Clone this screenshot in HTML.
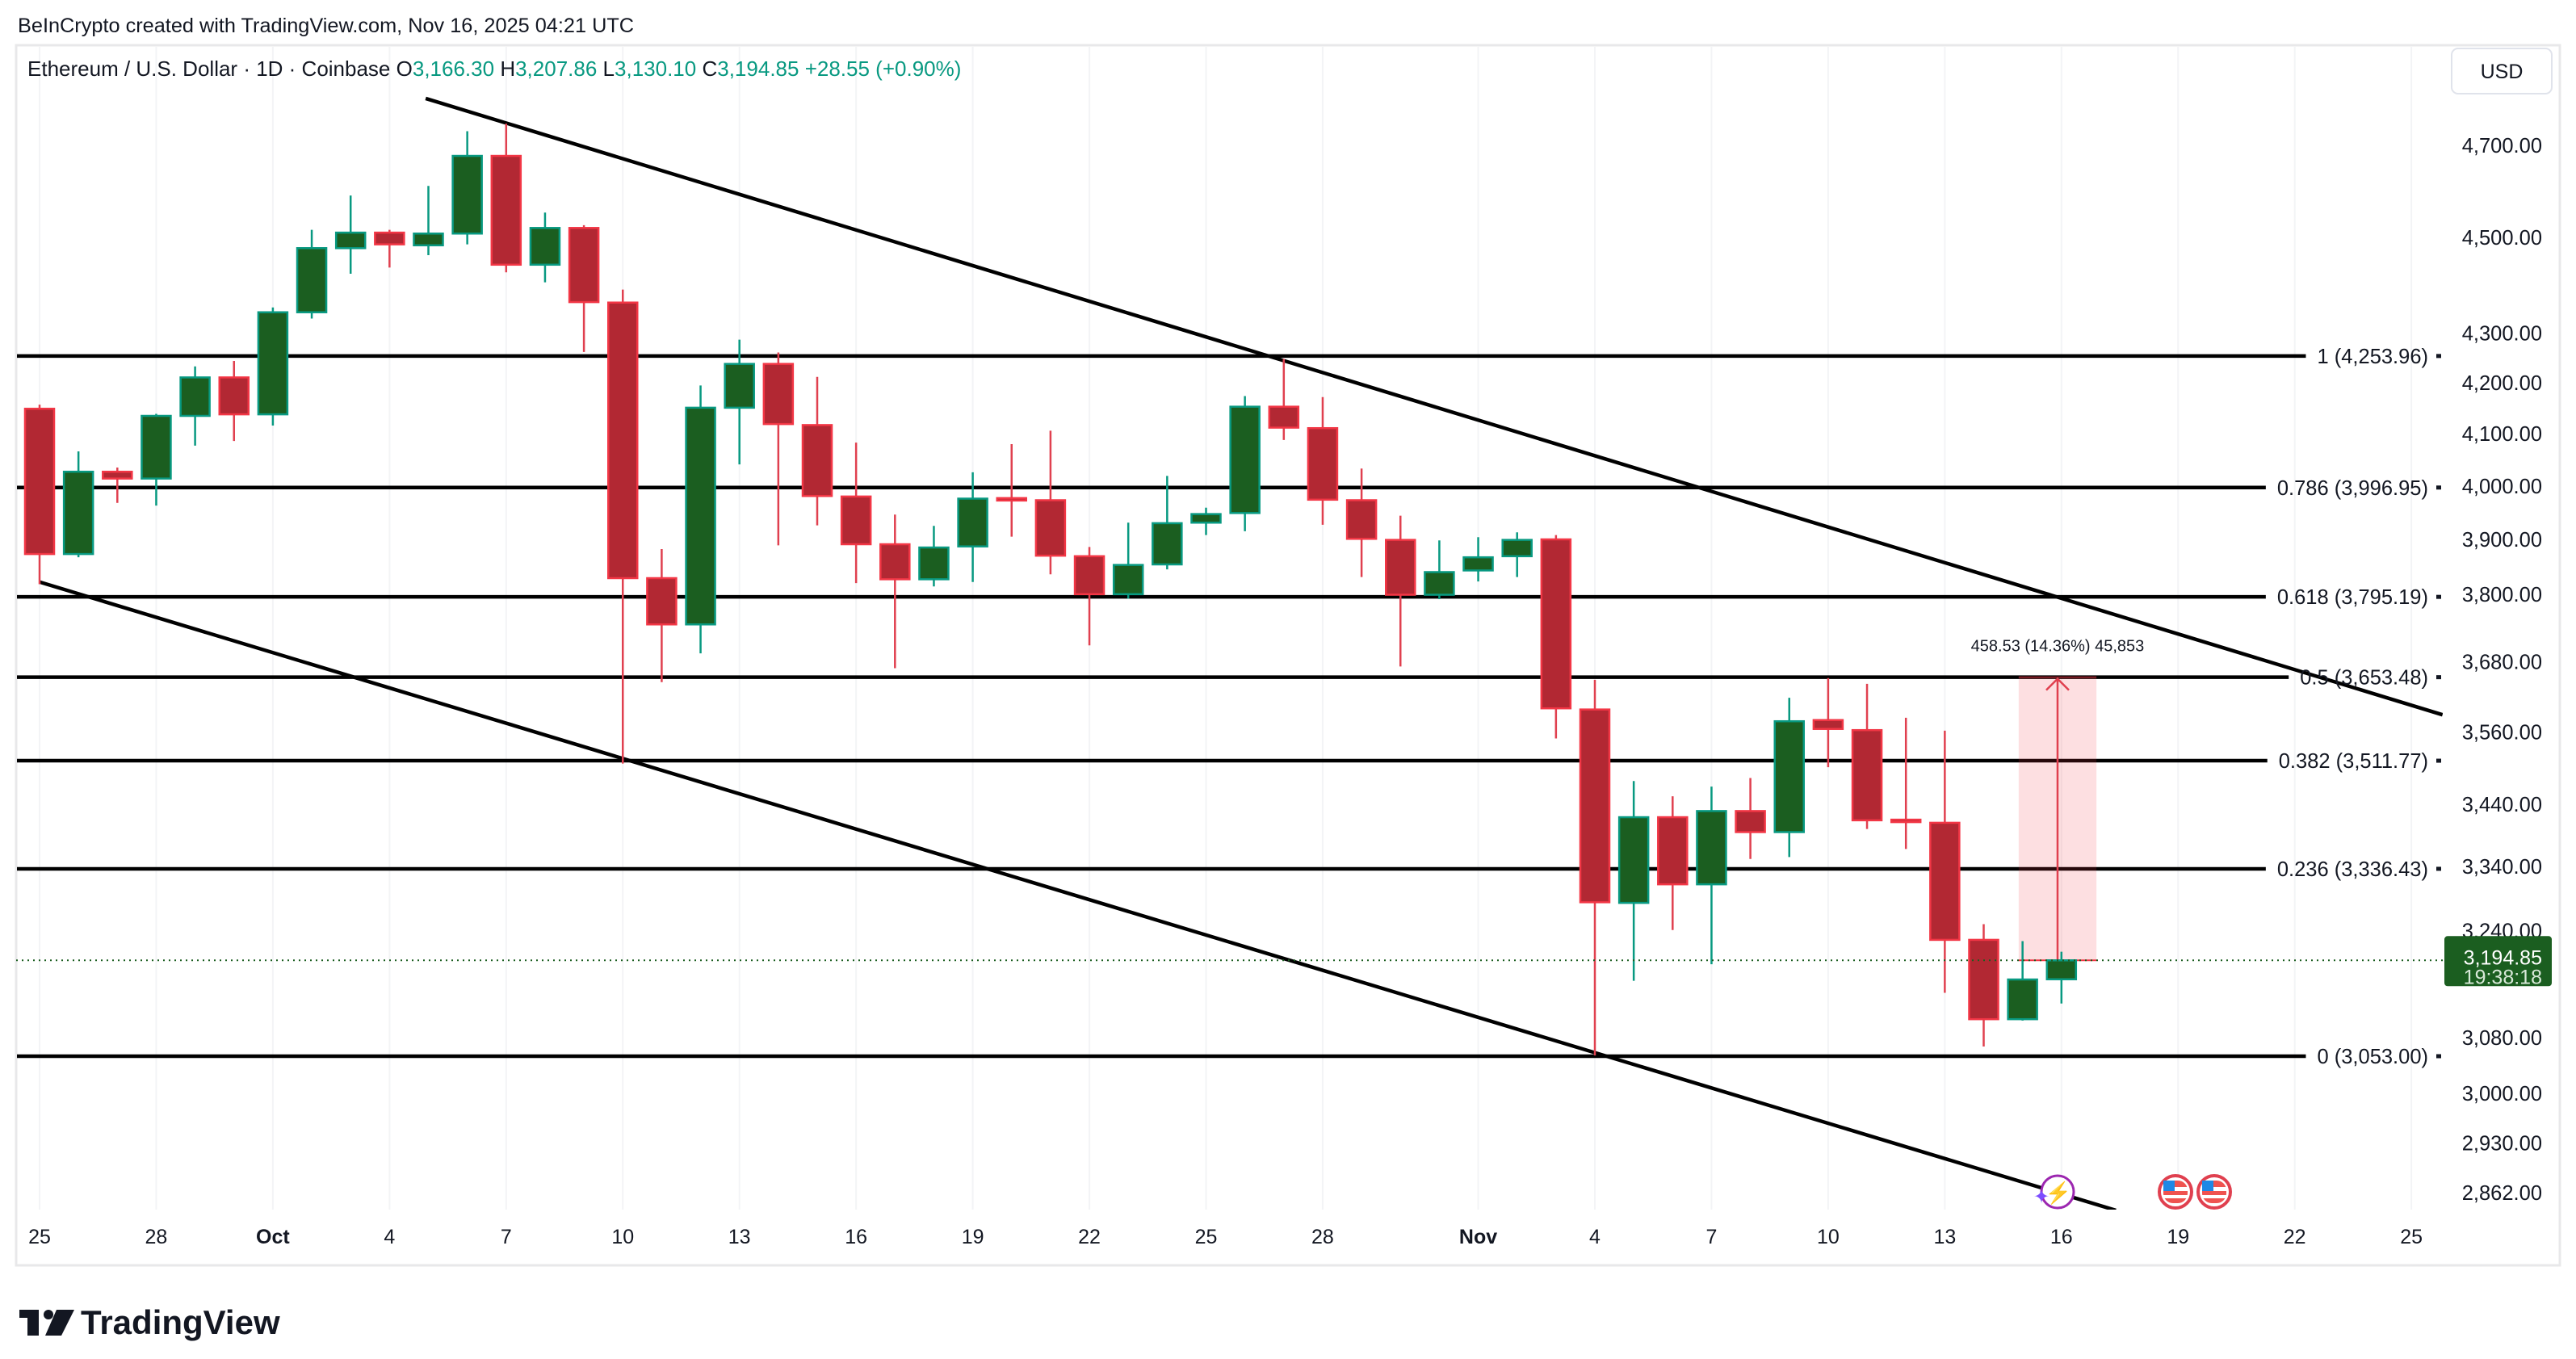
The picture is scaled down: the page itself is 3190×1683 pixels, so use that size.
<!DOCTYPE html>
<html><head><meta charset="utf-8">
<style>
html,body{margin:0;padding:0;background:#fff;}
body{width:3190px;height:1678px;overflow:hidden;font-family:"Liberation Sans",sans-serif;}
svg text{font-family:"Liberation Sans",sans-serif;}
</style></head>
<body>
<svg id="chart" width="3190" height="1678" viewBox="0 0 3190 1678" xmlns="http://www.w3.org/2000/svg">
<rect x="0" y="0" width="3190" height="1678" fill="#fff"/>
<text x="22" y="40" font-size="25.3" fill="#131722">BeInCrypto created with TradingView.com, Nov 16, 2025 04:21 UTC</text>
<rect x="20" y="56" width="3150" height="1511" fill="none" stroke="#e8e8ea" stroke-width="3"/>
<defs><clipPath id="plotclip"><rect x="21" y="58" width="3004" height="1440"/></clipPath></defs>
<g id="grid"></g>
<g id="fib" clip-path="url(#plotclip)"></g>
<g id="trend" clip-path="url(#plotclip)"></g>
<g id="measure"></g>
<g id="candles"></g>
<g id="axis"></g>
<g id="xaxis"></g>
<text x="34" y="94" font-size="26" fill="#131722">Ethereum / U.S. Dollar · 1D · Coinbase  <tspan fill="#131722">O</tspan><tspan fill="#089981">3,166.30</tspan>  <tspan fill="#131722">H</tspan><tspan fill="#089981">3,207.86</tspan>  <tspan fill="#131722">L</tspan><tspan fill="#089981">3,130.10</tspan>  <tspan fill="#131722">C</tspan><tspan fill="#089981">3,194.85</tspan>  <tspan fill="#089981">+28.55 (+0.90%)</tspan></text>
<g>
<rect x="3036" y="60" width="124" height="56" rx="8" fill="#fff" stroke="#e0e3eb" stroke-width="2"/>
<text x="3098" y="97" font-size="25" text-anchor="middle" fill="#131722">USD</text>
</g>
<g>
<rect x="24" y="1622" width="24" height="10" fill="#131722"/>
<rect x="34" y="1622" width="14" height="32" fill="#131722"/>
<circle cx="60" cy="1628" r="6" fill="#131722"/>
<polygon points="70,1622 92,1622 76,1654 56,1654" fill="#131722"/>
<text x="100" y="1652" font-size="42" font-weight="bold" fill="#131722">TradingView</text>
</g>
<g>
<circle cx="2548" cy="1476" r="20" fill="#fff" stroke="#9c27b0" stroke-width="3"/>
<text x="2549" y="1486" font-size="26" text-anchor="middle" fill="#9c27b0">⚡</text>
<text x="2528" y="1490" font-size="24" text-anchor="middle" fill="#7c4dff">✦</text>
<circle cx="2694" cy="1476" r="20" fill="#fff" stroke="#e0404f" stroke-width="4"/>
<rect x="2679" y="1462" width="30" height="28" rx="12" fill="#ef5350"/>
<rect x="2679" y="1470" width="30" height="5" fill="#fff"/><rect x="2679" y="1480" width="30" height="4" fill="#fff"/>
<rect x="2679" y="1462" width="14" height="13" fill="#1e88e5"/>
<circle cx="2742" cy="1476" r="20" fill="#fff" stroke="#e0404f" stroke-width="4"/>
<rect x="2727" y="1462" width="30" height="28" rx="12" fill="#ef5350"/>
<rect x="2727" y="1470" width="30" height="5" fill="#fff"/><rect x="2727" y="1480" width="30" height="4" fill="#fff"/>
<rect x="2727" y="1462" width="14" height="13" fill="#1e88e5"/>
</g>
</svg>
<script>
// ---- data ----
const opens  = [4149,3873,4027,4014,4135,4211,4138,4343,4477,4510,4483,4508,4677,4442,4520,4363,3829,3746,4151,4238,4117,3980,3891,3827,3887,3977,3973,3869,3800,3854,3931,3949,4153,4111,3973,3899,3799,3843,3869,3900,3598,3283,3419,3312,3429,3395,3580,3563,3415,3410,3226,3107,3166.30];
const highs  = [4157,4066,4035,4139,4233,4244,4353,4516,4590,4516,4611,4732,4749,4553,4526,4390,3882,4195,4287,4261,4212,4083,3946,3925,4026,4080,4106,3886,3931,4019,3959,4174,4248,4172,4033,3944,3898,3904,3913,3908,3649,3478,3453,3469,3483,3618,3652,3642,3584,3562,3250,3224,3207.86];
const lows   = [3818,3867,3968,3963,4077,4086,4116,4330,4423,4436,4462,4485,4426,4405,4262,3507,3645,3695,4041,3889,3926,3820,3669,3814,3822,3905,3836,3709,3792,3845,3908,3915,4088,3927,3831,3672,3791,3823,3831,3549,3054,3164,3241,3189,3352,3355,3501,3400,3368,3146,3067,3105,3130.10];
const closes = [3873,4027,4014,4135,4211,4138,4343,4477,4510,4485,4508,4677,4442,4520,4364,3829,3746,4151,4238,4119,3981,3891,3827,3885,3976,3973,3870,3800,3853,3930,3947,4153,4112,3974,3901,3799,3840,3867,3899,3600,3284,3419,3312,3429,3395,3578,3565,3414,3414,3226,3107,3166,3194.85];
const priceTicks = [4700,4500,4300,4200,4100,4000,3900,3800,3680,3560,3440,3340,3240,3080,3000,2930,2862];
const dateTickDays = [0,3,6,9,12,15,18,21,24,27,30,33,37,40,43,46,49,52,55,58,61];
const dateTickLabels = ["25","28","Oct","4","7","10","13","16","19","22","25","28","Nov","4","7","10","13","16","19","22","25"];
const fibLevels = [4253.96,3996.95,3795.19,3653.48,3511.77,3336.43,3053.00];
const fibRatios = ["1","0.786","0.618","0.5","0.382","0.236","0"];
const upperTrend = [[9.93,4806],[61.8,3589]];
const lowerTrend = [[0,3822],[53.4,2838]];
const measureRange = [50.9,52.9,3194.85,3653.48];
const measureText = "458.53 (14.36%) 45,853";
const lastPrice = 3194.85;

// ---- scales ----
const X = d => 49 + d*48.15;
const Y = p => 1308 - 2614*(Math.log(p) - Math.log(3053));
const NS = "http://www.w3.org/2000/svg";
function mk(tag, attrs, parent){const e=document.createElementNS(NS,tag);for(const k in attrs)e.setAttribute(k,attrs[k]);parent.appendChild(e);return e;}
const fmt = v => v.toLocaleString('en-US',{minimumFractionDigits:2,maximumFractionDigits:2});

// grid verticals
const grid=document.getElementById('grid');
dateTickDays.forEach(d=>{const l=mk('line',{x1:X(d),x2:X(d),y1:58,y2:1498,stroke:'#f3f4f6','stroke-width':2},grid);

});

// fib
const fib=document.getElementById('fib'), axis=document.getElementById('axis');
fibLevels.forEach((v,i)=>{
  const y=Y(v);
  const label=fibRatios[i]+' ('+fmt(v)+')';
  const t=mk('text',{x:3007,y:y+9,'font-size':25.5,'text-anchor':'end',fill:'#131722'},axis);
  t.textContent=label;
  
  
  let w=label.length*12.5;
  try{w=t.getComputedTextLength();}catch(e){}
  const l=mk('line',{x1:20,x2:3007-w-14,y1:y,y2:y,stroke:'#000','stroke-width':4.5},fib);
  
  
  const m=mk('rect',{x:3017,y:y-2.5,width:6,height:5,fill:'#131722'},axis);
  
  
});

// trendlines
const tr=document.getElementById('trend');
[upperTrend,lowerTrend].forEach((seg,i)=>{
  const l=mk('line',{x1:X(seg[0][0]),y1:Y(seg[0][1]),x2:X(seg[1][0]),y2:Y(seg[1][1]),stroke:'#000','stroke-width':4.5},tr);
  
  
});

// measure box
const ms=document.getElementById('measure');
const mx1=X(measureRange[0]), mx2=X(measureRange[1]), my1=Y(measureRange[3]), my2=Y(measureRange[2]);
const mb=mk('rect',{x:mx1,y:my1,width:mx2-mx1,height:my2-my1,fill:'#f23645','fill-opacity':0.16},ms);


mk('line',{x1:mx1,x2:mx2,y1:my1,y2:my1,stroke:'#f23645','stroke-width':2,'stroke-opacity':0.5},ms);
mk('line',{x1:mx1,x2:mx2,y1:my2,y2:my2,stroke:'#f23645','stroke-width':2},ms);
const cx=(mx1+mx2)/2;
const ar=mk('path',{d:`M${cx},${my2} L${cx},${my1+2} M${cx-14},${my1+16} L${cx},${my1+2} L${cx+14},${my1+16}`,stroke:'#e0404f','stroke-width':2.5,fill:'none'},ms);


const mt=mk('text',{x:cx,y:my1-32,'font-size':20,'text-anchor':'middle',fill:'#131722'},ms);
mt.textContent=measureText;



// candles
const cg=document.getElementById('candles');
const bw=36;
opens.forEach((o,i)=>{
  const c=closes[i], up=c>=o;
  const x=X(i);
  const wick=up?'#089981':'#e0404f', body=up?'#1b5e20':'#b22833', border=up?'#089981':'#f23645';
  const g=mk('g',{},cg);
  
  
  mk('line',{x1:x,x2:x,y1:Y(highs[i]),y2:Y(lows[i]),stroke:wick,'stroke-width':2.5},g);
  const yt=Y(Math.max(o,c)), yb=Y(Math.min(o,c));
  mk('rect',{x:x-bw/2,y:yt,width:bw,height:Math.max(yb-yt,3),fill:body,stroke:border,'stroke-width':2.5},g);
});

// last price dotted line
const lp=mk('line',{x1:20,x2:3026,y1:Y(lastPrice),y2:Y(lastPrice),stroke:'#1b5e20','stroke-width':2,'stroke-dasharray':'2,5'},cg);



// price axis
priceTicks.forEach(v=>{
  const t=mk('text',{x:3148,y:Y(v)+9,'font-size':25.5,'text-anchor':'end',fill:'#131722'},axis);
  t.textContent=fmt(v);
  
  
});
const ply=Y(lastPrice);
const pl=mk('rect',{x:3027,y:ply-30,width:133,height:62,rx:4,fill:'#1b5e20'},axis);


const pt1=mk('text',{x:3148,y:ply+5,'font-size':25,'text-anchor':'end',fill:'#fff'},axis);
pt1.textContent=fmt(lastPrice);


const pt2=mk('text',{x:3148,y:ply+29,'font-size':25,'text-anchor':'end',fill:'#d8e8d8'},axis);
pt2.textContent='19:38:18';



// date axis
const xa=document.getElementById('xaxis');
dateTickDays.forEach((d,i)=>{
  const lab=dateTickLabels[i];
  const bold=isNaN(+lab);
  const t=mk('text',{x:X(d),y:1540,'font-size':25,'text-anchor':'middle',fill:'#131722','font-weight':bold?'bold':'normal'},xa);
  t.textContent=lab;
  
  
});
</script>
</body></html>
